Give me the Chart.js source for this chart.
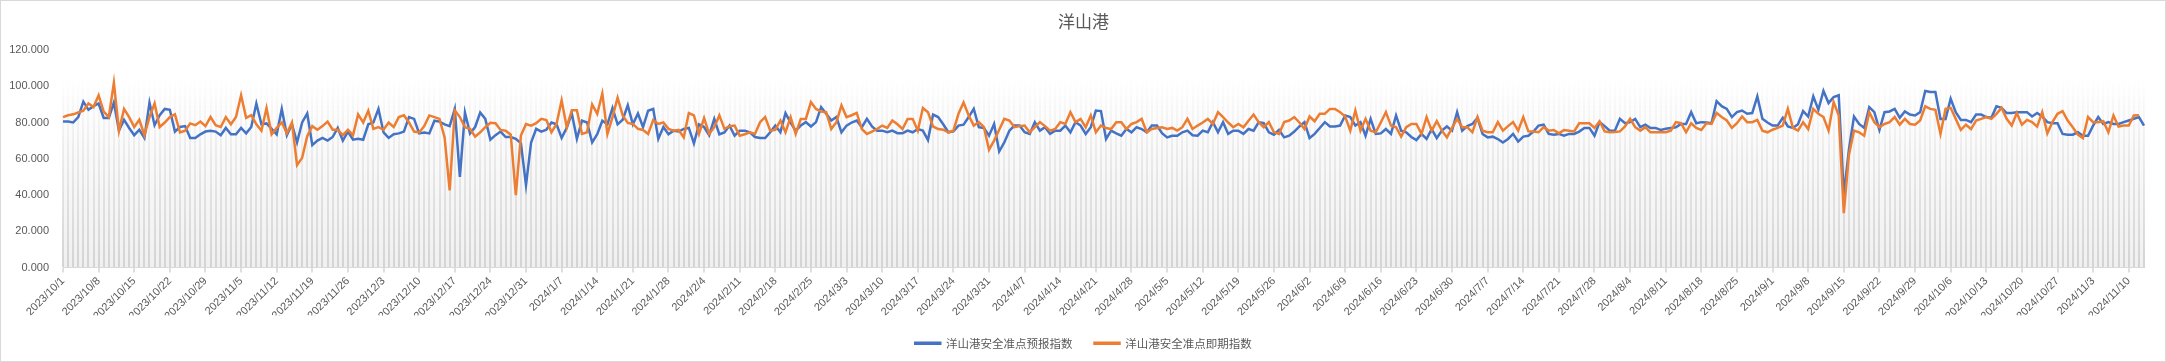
<!DOCTYPE html>
<html>
<head>
<meta charset="utf-8">
<script src="https://cdn.jsdelivr.net/npm/chart.js@4/dist/chart.umd.min.js"></script>
<style>
  html, body { margin: 0; padding: 0; background: #fff; }
  #wrap { width: 2166px; height: 362px; box-sizing: border-box; border: 1px solid #d9d9d9; }
  canvas { display: block; }
</style>
</head>
<body>
<div id="wrap"><canvas id="chart" width="2164" height="360"></canvas></div>
<script>
// 洋山港 daily index, 2023/10/1 .. 2024/11/14

const chartTitle = "洋山港";
const seriesNames = ["洋山港安全准点预报指数", "洋山港安全准点即期指数"];
const yTicks = [0, 20, 40, 60, 80, 100, 120];

// one label per day, starting 2023/10/1
const firstDay = new Date(2023, 9, 1);
const dayCount = 410;
const dateLabels = [];
for (let i = 0; i < dayCount; i++) {
  const d = new Date(firstDay.getFullYear(), firstDay.getMonth(), firstDay.getDate() + i);
  dateLabels.push(d.getFullYear() + "/" + (d.getMonth() + 1) + "/" + d.getDate());
}

// 预报指数 (blue)
const forecastIdx = [
  80.5, 80.5, 80, 83, 91.5, 87, 89,
  90.5, 82.5, 82.5, 91, 75.5, 81.5, 77,
  73, 76, 71.5, 91, 78.5, 84, 87.5,
  87, 75, 77.5, 78, 71.5, 71.5, 73.5,
  75, 75.5, 75, 73, 77, 73.5, 73.5,
  77, 74, 77.5, 90.5, 79, 79.5, 76.5,
  73.5, 87.5, 73, 79, 69, 80, 85,
  67.5, 70, 71.5, 70, 72, 77, 70,
  75, 70.5, 71, 70.5, 79, 80, 87.5,
  74.5, 71.5, 73.5, 74, 75, 83, 82,
  74, 74.5, 74, 81, 80.5, 79, 78,
  87.5, 50, 85.5, 74, 77.5, 85.5, 82,
  70.5, 73, 75, 72, 72, 71, 68.5,
  45.5, 69, 76.5, 75, 76, 80, 79,
  71.5, 77, 85, 71, 81, 80, 69,
  73.5, 81, 79, 88, 79, 81.5, 89.5,
  79, 85, 77.5, 86.5, 87.5, 71, 77.5,
  73.5, 75.5, 75, 76.5, 77, 68.5, 79,
  77.5, 73, 82, 73.5, 74.5, 78.3, 72.7,
  75.5, 75.5, 74.6, 72, 71.4, 71.4, 74.6,
  78.3, 74.6, 85.2, 80, 75.5, 78.3, 80.2,
  77.8, 80.2, 88.5, 84.8, 81.1, 83, 74.6,
  78.3, 80, 81.1, 77.4, 82, 77.8, 75.5,
  75.5, 74.6, 75.5, 74.1, 74.1, 75.5, 74.6,
  76.4, 75.5, 70.3, 84.4, 83, 79, 74.6,
  75.1, 78.3, 78.8, 83, 87.5, 77.4, 77,
  72.7, 79.2, 64, 69, 75.5, 78.3, 78.3,
  74.6, 73.7, 80.2, 75.5, 77.4, 73.7, 75.5,
  75.5, 78.3, 74.6, 80.2, 78.3, 73.7, 77.4,
  86.6, 86.3, 70.9, 75.5, 74, 72.7, 76.4,
  74.6, 77.4, 76.4, 74.6, 78.3, 78.3, 74.1,
  71.8, 72.7, 72.7, 74.6, 75.5, 73, 72.7,
  75.5, 74.6, 80.2, 74.6, 80.2, 73.7, 75.5,
  75.5, 73.7, 76.4, 75.5, 80.2, 79.6, 74.6,
  73.3, 75.9, 71.8, 72.7, 75, 77.8, 80.2,
  71.4, 73.7, 77, 80.2, 77.8, 77.8, 78.3,
  83.9, 83, 78.3, 80.2, 72.7, 82, 73.7,
  74, 76.4, 73.7, 83.9, 75.5, 74.6, 72,
  70.3, 73.7, 70.9, 76.4, 71.4, 75.5, 77.8,
  75.5, 85.7, 75.5, 78, 79.2, 82.6, 73.7,
  71.8, 72.2, 70.9, 69, 70.9, 73.7, 69.5,
  72.2, 72.7, 75, 78.3, 78.8, 73.7, 73.3,
  73.7, 72.7, 73.7, 73.7, 75, 77, 77,
  72.7, 80.2, 78, 75.5, 75.5, 82, 79.6,
  80.2, 82, 77.4, 78.8, 77, 77, 75.9,
  76.5, 77, 77.4, 79.2, 79.2, 85.7, 79.6,
  80.2, 80, 79.6, 91.8, 89, 87.5, 83,
  85.7, 86.6, 84.8, 85.2, 94.4, 82, 80,
  78.3, 78.3, 82.6, 77.8, 77, 79, 86.3,
  83.3, 94.4, 87, 97.4, 90.7, 94, 95,
  40, 65, 83.3, 79.2, 77, 88.5, 85.7,
  75.9, 85.7, 86.1, 87.5, 82.6, 86.1, 84.4,
  83.9, 85.7, 97.4, 96.8, 96.8, 82, 82,
  93.1, 85.7, 81.4, 81.4, 80.2, 84.4, 84.4,
  83, 82.6, 88.9, 88.1, 85.2, 85.2, 85.7,
  85.7, 85.7, 83.3, 85.2, 83.3, 80.2, 79.6,
  79.6, 73.7, 73.3, 73.3, 74.6, 72.7, 72.7,
  78.3, 83, 79.2, 80.2, 79.2, 79.2, 80.2,
  81.1, 82, 83, 78.3
];

// 即期指数 (orange)
const spotIdx = [
  83, 84, 84.5, 85.5, 86.5, 90.5, 88.5,
  95, 86, 83, 102, 75.5, 87.5, 83,
  77.5, 81.5, 73, 83, 90.5, 77.5, 80,
  83, 84.5, 74.5, 75.5, 79.5, 78.5, 80.5,
  78, 83, 78.5, 77.5, 83, 79, 83,
  95, 82.5, 84, 79, 75.5, 88, 73.5,
  77, 80, 74, 80, 56.5, 60.5, 72.5,
  78, 76, 78, 80.5, 76, 76, 73,
  76, 73, 84.5, 80, 86.5, 76.5, 77.5,
  76, 80, 77.5, 83, 84, 80, 75,
  74.5, 78, 83.9, 83, 82, 71.8, 42.5,
  86.7, 83, 77.4, 76.5, 72.2, 74.6, 77.4,
  79.8, 79.6, 75.9, 75.5, 73.3, 39.9, 72.8,
  79.2, 78.3, 79.6, 82, 81.4, 74.6, 79.2,
  92.2, 77.4, 86.7, 86.7, 73.7, 74.6, 90,
  84.8, 96, 73.7, 83, 93.7, 83.9, 79.8,
  79.2, 76.5, 75.9, 73.7, 81.4, 79.2, 80,
  76.5, 75.5, 75.9, 71.8, 85.2, 83.9, 73.7,
  82.4, 73.7, 77.4, 83.9, 76.5, 78, 78.3,
  72.7, 73.5, 74.6, 73.7, 80.2, 83, 75.5,
  76, 81.1, 74.6, 83, 73.7, 82, 82,
  91.3, 87.5, 86, 85.7, 76.4, 80.2, 89.4,
  83, 84, 85.3, 76.4, 73.7, 75, 76.4,
  78.3, 77, 81.1, 79, 76.4, 82, 82,
  75.5, 88, 85.7, 77.8, 76.4, 76, 74.6,
  75.5, 84.8, 91, 83.9, 78.3, 80.2, 77.4,
  65, 70, 76, 82, 81.1, 77.4, 78,
  78.3, 74.6, 77.4, 80.2, 78, 75.5, 76.4,
  80.2, 79.2, 85.7, 80.2, 82, 77.4, 83.9,
  74.6, 78.3, 77, 76.4, 80.2, 80.2, 76.4,
  79.2, 80.2, 82, 74.6, 76.4, 77, 77.4,
  76.4, 77, 75.5, 77.4, 82, 76.4, 78.3,
  80, 82, 79.2, 85.7, 83, 80, 77.4,
  79.2, 77.4, 81, 84.4, 80.2, 77.4, 80.2,
  74.6, 73.7, 80.2, 81.1, 83, 80, 76.4,
  83.3, 80.7, 84.8, 84.8, 87.5, 87.5, 85.7,
  83.3, 75.5, 86.6, 75.5, 82, 75.5, 74.6,
  80, 85.7, 78.3, 77.4, 72.2, 77.4, 79.2,
  79.2, 73.7, 83, 75.5, 80.7, 75.5, 71.8,
  77, 82, 77.4, 77.4, 74.6, 83, 75.5,
  74.6, 74.6, 80.2, 75.5, 78, 80.2, 75.5,
  83, 75.1, 75, 74.6, 77.4, 75.5, 75.9,
  74, 75.9, 75.5, 75.1, 79.6, 79.6, 79.6,
  77, 80.7, 75.1, 74.6, 74.8, 75.1, 77.8,
  82, 77.4, 75.5, 77.4, 74.6, 74.6, 74.6,
  74.6, 75.5, 80.2, 79.6, 74.6, 79.6, 77,
  75.9, 79.6, 79.2, 85.2, 83, 81.1, 77,
  79.6, 83.3, 80.2, 80.2, 81.4, 75.5, 74.6,
  76, 77, 78.3, 87.5, 77, 75.5, 80.2,
  76.4, 87.5, 84.8, 83, 75.5, 91.3, 84,
  30, 62, 75.5, 74.6, 72.7, 85.7, 80.2,
  77.4, 79.2, 80.2, 83, 78.8, 82, 79.2,
  78.8, 81.1, 88.9, 87.5, 87, 73.7, 87.5,
  88.1, 82, 75.9, 78.8, 76.4, 81.1, 82,
  83, 82, 84.8, 88.1, 82, 78.3, 85.2,
  78.8, 81.4, 80.2, 77.7, 85.7, 74, 80.2,
  84.8, 86.3, 81.1, 77.4, 73.3, 71.4, 83,
  80.2, 80.2, 80.7, 74.6, 83.9, 77.7, 78.3,
  78.3, 83.9, 84, null
];

const blue = "#4472C4";
const orange = "#ED7D31";
const textGray = "#595959";

// soft column background: grey gradient + one thin stripe per day
const stripeBg = {
  id: "stripeBg",
  beforeDraw(chart) {
    const { ctx, chartArea, scales } = chart;
    const top = scales.y.getPixelForValue(104);
    const bottom = scales.y.getPixelForValue(0);
    const bg = ctx.createLinearGradient(0, top, 0, bottom);
    bg.addColorStop(0, "rgba(242,242,242,0)");
    bg.addColorStop(1, "#f0f0f0");
    ctx.save();
    ctx.fillStyle = bg;
    ctx.fillRect(chartArea.left, top, chartArea.right - chartArea.left, bottom - top);
    ctx.restore();
    const lg = ctx.createLinearGradient(0, top, 0, bottom);
    lg.addColorStop(0, "rgba(214,214,214,0)");
    lg.addColorStop(1, "#d4d4d4");
    chart.$stripe = lg;
  }
};

// title and legend are centred on the whole frame, not on the padded box
const centerShift = {
  id: "centerShift",
  afterLayout(chart) {
    [chart.titleBlock, chart.legend].forEach((b) => {
      if (b) { b.left += 11; b.right += 11; }
    });
  }
};

const chart = new Chart(document.getElementById("chart"), {
  type: "line",
  data: {
    labels: dateLabels,
    datasets: [
      {
        label: seriesNames[0],
        data: forecastIdx,
        borderColor: blue,
        backgroundColor: blue,
        borderWidth: 2.5,
        pointRadius: 0,
        tension: 0,
        order: 2
      },
      {
        label: seriesNames[1],
        data: spotIdx,
        borderColor: orange,
        backgroundColor: orange,
        borderWidth: 2.5,
        pointRadius: 0,
        tension: 0,
        order: 1
      }
    ]
  },
  options: {
    responsive: false,
    animation: false,
    layout: { padding: { left: 0, right: 21, top: 0, bottom: 2 } },
    plugins: {
      title: {
        display: true,
        text: chartTitle,
        color: textGray,
        font: { family: "'Noto Sans CJK SC'", size: 17, weight: "normal" },
        padding: { top: 10.5, bottom: 18.1 }
      },
      legend: {
        position: "bottom",
        labels: {
          boxWidth: 25,
          boxHeight: 1,
          padding: 22,
          color: textGray,
          font: { family: "'Noto Sans CJK SC'", size: 11.5 },
          sort: (a, b) => a.datasetIndex - b.datasetIndex
        }
      },
      tooltip: { enabled: false }
    },
    scales: {
      x: {
        type: "category",
        offset: false,
        afterFit: (s) => { s.height = 48; },
        grid: {
          color: (c) => c.chart.$stripe || "#e0e0e0",
          lineWidth: 2,
          tickLength: 5,
          tickWidth: 1,
          tickColor: (c) => (c.index % 7 === 0 ? "#bfbfbf" : "rgba(0,0,0,0)")
        },
        border: { display: true, color: "#d9d9d9", width: 1 },
        ticks: {
          autoSkip: false,
          maxRotation: 45,
          minRotation: 45,
          padding: 2,
          color: textGray,
          font: { family: "'Liberation Sans'", size: 11 },
          callback: (v, i) => (i % 7 === 0 ? dateLabels[i] : "")
        }
      },
      y: {
        min: yTicks[0],
        max: yTicks[yTicks.length - 1],
        afterFit: (s) => { s.width = 62; },
        grid: { display: false, drawTicks: false },
        border: { display: false },
        ticks: {
          stepSize: 20,
          padding: 14,
          color: textGray,
          font: { family: "'Liberation Sans'", size: 11 },
          callback: (v) => Number(v).toFixed(3)
        }
      }
    }
  },
  plugins: [stripeBg, centerShift]
});
</script>
</body>
</html>
